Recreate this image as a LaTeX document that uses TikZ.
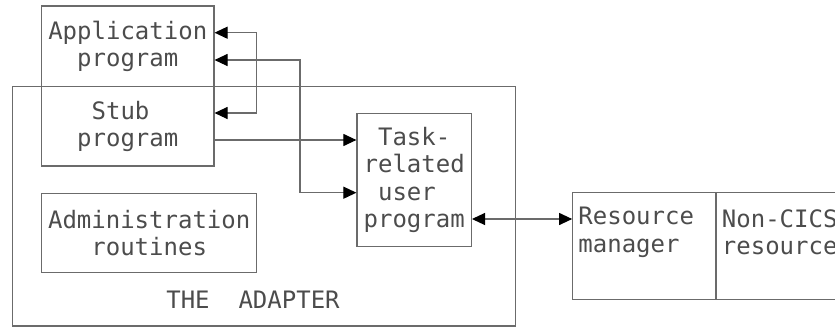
\documentclass[tikz,border=0pt]{standalone}
\usepackage{fontspec}
\setmonofont{DejaVu Sans Mono}
\usepackage{tikz}
\usetikzlibrary{arrows.meta}

\definecolor{linegray}{gray}{0.42}
\definecolor{textgray}{gray}{0.3}

\tikzset{
	box/.style={rectangle, draw=linegray, line width=0.55pt},
	txt/.style={font=\ttfamily\fontsize{12}{13.75}\selectfont, text=textgray, inner sep=0pt},
	link/.style={draw=linegray, line width=0.55pt, >={Triangle[length=6.5pt,width=6pt,color=black]}}
}

\begin{document}
\begin{tikzpicture}[x=0.5pt,y=-0.5pt]
		\useasboundingbox (0,0) rectangle (835,327);
		\clip (0,0) rectangle (835,327);
		\node at (264.2,206.3) [box, minimum width=251.5pt, minimum height=119.65pt] (adapter) {};
		\node at (127.75,86) [box, minimum width=86.25pt, minimum height=80pt] (appbox) {};
		\node at (127.75,46.5) [txt, align=center] (apptxt) {Application\\program};
		\node at (127.75,126.5) [txt, align=left] (stubtxt) {\ Stub\\program};
		\node at (149.2,233) [box, txt, align=center, minimum width=107.5pt, minimum height=39.7pt] (admin) {Administration\\routines};
		\node at (414.2,180) [box, txt, align=left, minimum width=57.25pt, minimum height=66.6pt] (trup) {\ Task-\\related\\\ user\\program};
		\node at (253,300) [txt] (adapterlbl) {THE\ \ ADAPTER};
		\node at (644.35,246) [box, minimum width=71.65pt, minimum height=53.3pt] (resmgr) {};
		\node at (808,246) [box, minimum width=92pt, minimum height=53.3pt] (noncics) {};
		\node at (578,232.3) [txt, align=left, anchor=west] (rmtxt) {Resource\\manager};
		\node at (721.5,232.3) [txt, align=left, anchor=west] (nctxt) {Non-CICS\\resource};
		% bends of the connectors
		\coordinate (appup) at (256.7,32.7);
		\coordinate (stubin) at (256.7,113);
		\coordinate (appdown) at (300,60);
		\coordinate (trupin) at (300,192.7);
		\coordinate (stubout) at (300,140);
		\coordinate (rmlink) at (520,219);
		\draw[link, <->] (appbox.east |- appup) -- (appup) -- (stubin) -- (appbox.east |- stubin);
		\draw[link, <->] (appbox.east |- appdown) -- (appdown) -- (trupin) -- (trup.west |- trupin);
		\draw[link, ->] (appbox.east |- stubout) -- (trup.west |- stubout);
		\draw[link, <->] (trup.east |- rmlink) -- (resmgr.west |- rmlink);
\end{tikzpicture}
\end{document}
